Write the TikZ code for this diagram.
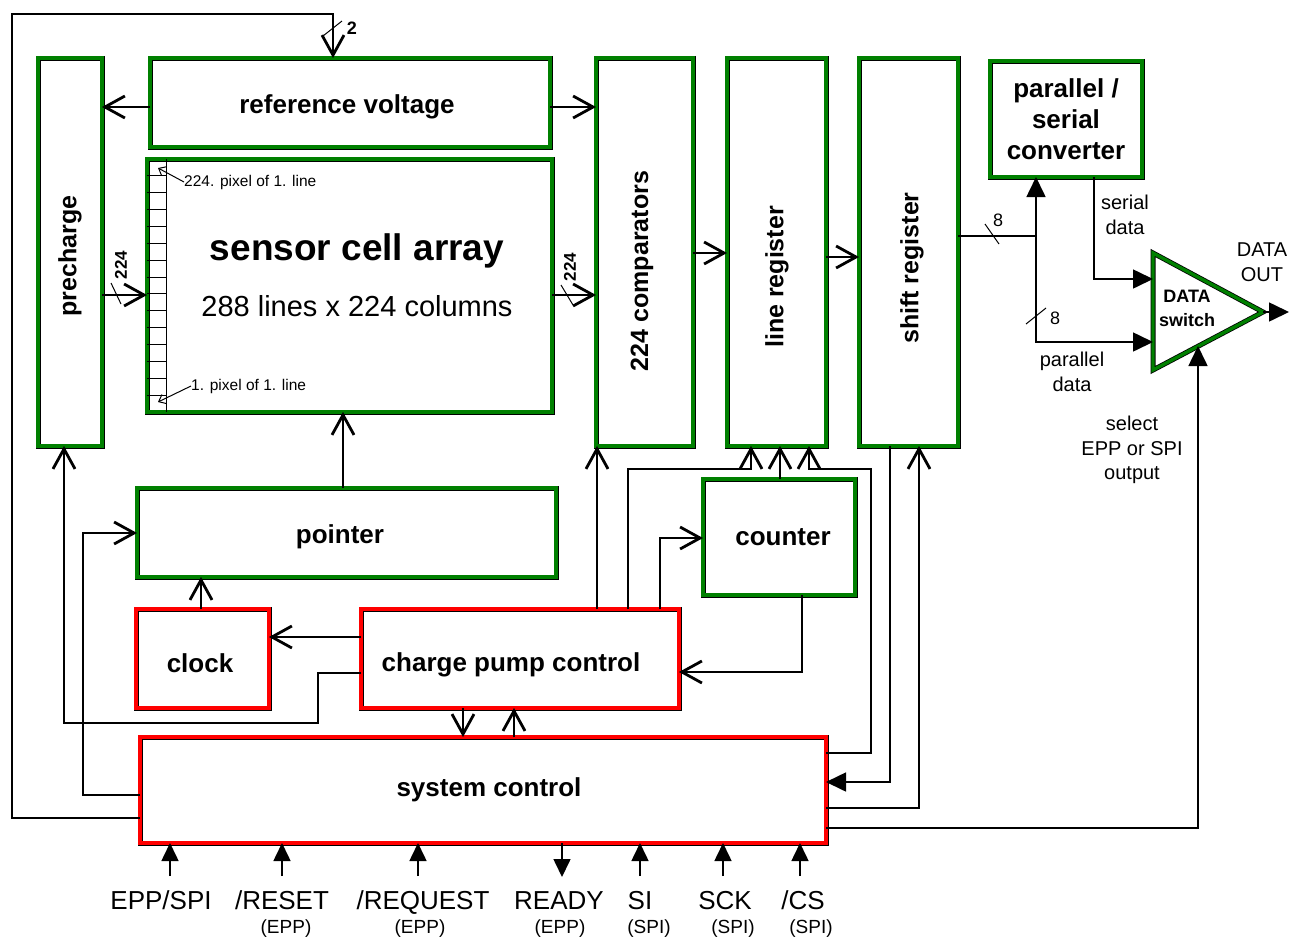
\documentclass[tikz,border=0pt]{standalone}
\usepackage{fontspec}
\setmainfont{Liberation Sans}
\usetikzlibrary{arrows.meta,calc}
\definecolor{bgreen}{RGB}{0,128,0}
\definecolor{bred}{RGB}{255,0,0}
\tikzset{
	blk/.style={draw=black, line width=0.8pt, double distance=3.4pt, inner sep=0pt, outer sep=0pt, anchor=north west},
	gblk/.style={blk, double=bgreen},
	rblk/.style={blk, double=bred},
	lbl/.style={font=\fontsize{26}{30}\selectfont\bfseries, inner sep=0pt},
	vlbl/.style={font=\fontsize{25}{30}\selectfont\bfseries, rotate=90, inner sep=0pt},
	sig/.style={font=\fontsize{20}{24.5}\selectfont, align=center, inner sep=0pt},
	buslbl/.style={font=\fontsize{17}{20}\selectfont\bfseries, inner sep=0pt},
	pinlbl/.style={font=\fontsize{26}{30}\selectfont, inner sep=0pt, anchor=base},
	pinsub/.style={font=\fontsize{19}{22}\selectfont, inner sep=0pt, anchor=base},
	conn/.style={line width=1.6pt},
	slash/.style={line width=1pt},
	barb/.style={-{Straight Barb[length=20pt,width=22pt,line width=2.8pt]}},
	ftri/.style={-{Triangle[length=20pt,width=19pt]}},
	stri/.style={-{Triangle[length=18pt,width=17pt]}},
	pbarb/.style={line width=1pt, -{Straight Barb[length=6pt,width=10pt,line width=1pt]}}
}
\begin{document}
\begin{tikzpicture}[x=1pt,y=-1pt]
			%%%%% START %%%%%
			\useasboundingbox (0,0) rectangle (1302,938);
			
			% blocks
			\node[gblk, minimum width=64pt, minimum height=388pt] (pre) at (38,58) {};
			\node[gblk, minimum width=400pt, minimum height=89pt] (refv) at (150,58) {};
			\node[gblk, minimum width=405pt, minimum height=253pt] (sca) at (147,159) {};
			\node[gblk, minimum width=97pt, minimum height=388pt] (comp) at (596,58) {};
			\node[gblk, minimum width=99pt, minimum height=388pt] (lreg) at (727,58) {};
			\node[gblk, minimum width=99pt, minimum height=388pt] (sreg) at (859,58) {};
			\node[gblk, minimum width=152pt, minimum height=116pt] (psc) at (990,61) {};
			\node[gblk, minimum width=419pt, minimum height=89pt] (ptr) at (137,488) {};
			\node[gblk, minimum width=152pt, minimum height=116pt] (cnt) at (703,479) {};
			\node[rblk, minimum width=133pt, minimum height=99pt] (clk) at (136,609) {};
			\node[rblk, minimum width=318pt, minimum height=99pt] (cpc) at (361,609) {};
			\node[rblk, minimum width=686pt, minimum height=106pt] (sys) at (140,737) {};
			
			\coordinate (swa) at (1153,253);
			\coordinate (swc) at (1263,312);
			\coordinate (swb) at (1153,370);
			\draw[draw=black, line width=0.8pt, double=bgreen, double distance=3.4pt] (swa) -- (swc) -- (swb) -- cycle;
			
			% block texts
			\node[vlbl] (pre-t) at (70,256) {precharge};
			\node[lbl] (refv-t) at (347,107) {reference voltage};
			\node[font=\fontsize{37}{40}\selectfont\bfseries, inner sep=0pt] (sca-t) at (357,251) {sensor cell array};
			\node[font=\fontsize{29}{32}\selectfont, inner sep=0pt] (sca-s) at (357,306) {288 lines x 224 columns};
			\node[vlbl] (comp-t) at (642,271) {224 comparators};
			\node[vlbl] (lreg-t) at (777,277) {line register};
			\node[vlbl] (sreg-t) at (912,268) {shift register};
			\node[lbl, align=center, font=\fontsize{26}{31}\selectfont\bfseries] (psc-t) at (1066,119) {parallel /\\serial\\converter};
			\node[lbl] (ptr-t) at (340,537) {pointer};
			\node[lbl] (clk-t) at (200,663) {clock};
			\node[lbl] (cpc-t) at (511,665) {charge pump control};
			\node[lbl] (cnt-t) at (783,537) {counter};
			\node[lbl] (sys-t) at (489,790) {system control};
			\node[align=center, font=\fontsize{18}{24}\selectfont\bfseries, inner sep=0pt] (sw-t) at (1187,308) {DATA\\switch};
			
			% cells of the array
			\draw[slash] (166,159) -- (166,412);
			\foreach \k in {1,...,14}
				\draw[slash] (147,{159+\k*16.87}) -- (166,{159+\k*16.87});
			\coordinate (cell224) at (158,168);
			\coordinate (cell1) at (158,402);
			\node[font=\fontsize{15.5}{18}\selectfont, inner sep=0pt, anchor=west] (p224) at (184,182) {224. pixel of 1. line};
			\node[font=\fontsize{15.5}{18}\selectfont, inner sep=0pt, anchor=west] (p1) at (191,386) {1. pixel of 1. line};
			\draw[pbarb] (p224.west) -- (cell224);
			\draw[pbarb] (p1.west) -- (cell1);
			
			% feedback to reference voltage
			\draw[conn,barb] (sys.west |- 0,818) -| (12,14) -| (refv.north -| 333,0);
			\draw[slash] (323,36) -- (342,21);
			\node[font=\fontsize{18}{20}\selectfont\bfseries, inner sep=0pt] (bw2) at (352,28) {2};
			
			\draw[conn,barb] (refv.west |- 0,107) -- (pre.east |- 0,107);
			\draw[conn,barb] (refv.east |- 0,107) -- (comp.west |- 0,107);
			
			\draw[conn,barb] (pre.east |- 0,295) -- (sca.west |- 0,295);
			\draw[slash] (111,283) -- (121,304);
			\node[buslbl, rotate=90] (bw224a) at (121,265) {224};
			\draw[conn,barb] (sca.east |- 0,295) -- (comp.west |- 0,295);
			\draw[slash] (561,285) -- (573,305);
			\node[buslbl, rotate=90] (bw224b) at (570,267) {224};
			
			\draw[conn,barb] (comp.east |- 0,253) -- (lreg.west |- 0,253);
			\draw[conn,barb] (lreg.east |- 0,257) -- (sreg.west |- 0,257);
			
			% output side
			\coordinate (jn) at (1036,236);
			\coordinate (swin1) at (1153,279);
			\coordinate (swin2) at (1153,342);
			\coordinate (tsel) at (1198,346);
			\coordinate (dout) at (1289,312);
			\draw[conn] (sreg.east |- jn) -- (jn);
			\draw[slash] (985,224) -- (999,244);
			\node[font=\fontsize{18}{20}\selectfont, inner sep=0pt] (bw8a) at (998,220) {8};
			\draw[conn,ftri] (jn) -- (jn |- psc.south);
			\draw[conn,ftri] (jn) |- (swin2);
			\draw[slash] (1026,324) -- (1046,308);
			\node[font=\fontsize{18}{20}\selectfont, inner sep=0pt] (bw8b) at (1055,318) {8};
			\draw[conn,ftri] (psc.south -| 1094,0) |- (swin1);
			\draw[conn,ftri] (swc) -- (dout);
			\draw[conn,ftri] (sys.east |- 0,828) -| (tsel);
			
			\node[sig] (ser-t) at (1125,215) {serial\\data};
			\node[sig] (par-t) at (1072,372) {parallel\\data};
			\node[sig] (out-t) at (1262,262) {DATA\\OUT};
			\node[sig] (sel-t) at (1132,450) {select\\EPP or SPI\\output};
			
			% control lines
			\draw[conn,barb] (ptr.north -| 343,0) -- (sca.south -| 343,0);
			\draw[conn,barb] (clk.north -| 201,0) -- (ptr.south -| 201,0);
			\draw[conn,barb] (cpc.west |- 0,637) -- (clk.east |- 0,637);
			\draw[conn,barb] (cpc.west |- 0,673) -| (318,723) -| (pre.south -| 64,0);
			\draw[conn,barb] (sys.west |- 0,795) -| (83,533) -- (ptr.west |- 0,533);
			\draw[conn,barb] (cpc.south -| 463,0) -- (sys.north -| 463,0);
			\draw[conn,barb] (sys.north -| 514,0) -- (cpc.south -| 514,0);
			
			\draw[conn,barb] (cpc.north -| 597,0) -- (comp.south -| 597,0);
			\draw[conn,barb] (cpc.north -| 628,0) |- (751,469) -- (lreg.south -| 751,0);
			\draw[conn,barb] (cpc.north -| 660,0) |- (cnt.west |- 0,538);
			\draw[conn,barb] (cnt.north -| 780,0) -- (lreg.south -| 780,0);
			\draw[conn,barb] (sys.east |- 0,753) -| (871,469) -| (lreg.south -| 809,0);
			\draw[conn,barb] (cnt.south -| 802,0) |- (cpc.east |- 0,672);
			\draw[conn,ftri] (sreg.south -| 890,0) |- (sys.east |- 0,782);
			\draw[conn,barb] (sys.east |- 0,808) -| (sreg.south -| 919,0);
			
			% interface pins
			\foreach \px/\lx/\sx/\txt/\sub in {170/161/0/{EPP/SPI}/{}, 282/282/286/{/RESET}/{(EPP)}, 418/423/420/{/REQUEST}/{(EPP)}, 640/640/649/SI/{(SPI)}, 723/725/733/SCK/{(SPI)}, 800/803/811/{/CS}/{(SPI)}}
			{
				\coordinate (in-\px) at (\px,876);
				\draw[conn,stri] (in-\px) -- (sys.south -| in-\px);
				\node[pinlbl] (lab-\px) at (\lx,909) {\txt};
				\node[pinsub] (sub-\px) at (\sx,933) {\sub};
			}
			\coordinate (in-ready) at (562,877);
			\draw[conn,stri] (sys.south -| in-ready) -- (in-ready);
			\node[pinlbl] (lab-ready) at (559,909) {READY};
			\node[pinsub] (sub-ready) at (560,933) {(EPP)};
			%%%%% END %%%%%
\end{tikzpicture}
\end{document}
